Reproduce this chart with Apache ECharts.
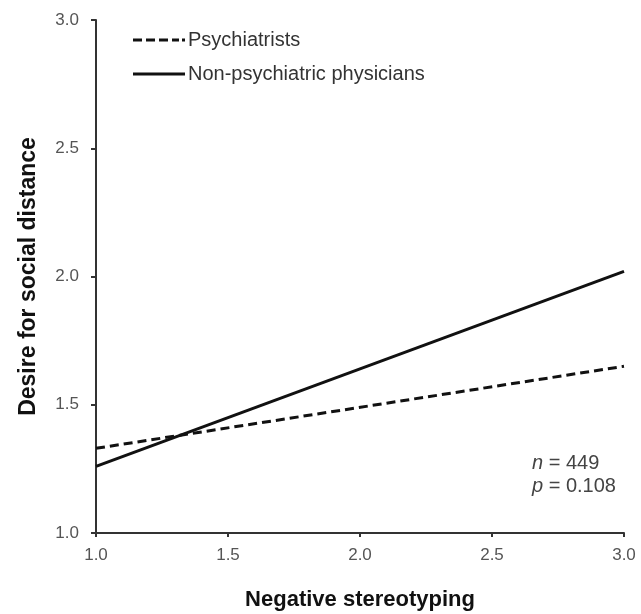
<!DOCTYPE html>
<html><head><meta charset="utf-8">
<script src="https://cdn.jsdelivr.net/npm/echarts@6/dist/echarts.min.js"></script>
<style>html,body{margin:0;padding:0;background:#fff}#c{width:641px;height:614px}</style>
</head><body><div id="c"></div>
<script>
const xValues = [1.0, 3.0];
const psychiatrists = [1.33, 1.65];
const nonPsychiatric = [1.26, 2.02];
const seriesNames = ['Psychiatrists', 'Non-psychiatric physicians'];
const xTitle = 'Negative stereotyping';
const yTitle = 'Desire for social distance';
const annotN = '449';
const annotP = '0.108';

const chart = echarts.init(document.getElementById('c'));
const font = 'Liberation Sans, Arial, sans-serif';
const dashIcon = 'path://M0,0h9v3h-9zM13,0h9v3h-9zM26,0h9v3h-9zM39,0h7v3h-7zM49,0h3v3h-3z';
const solidIcon = 'path://M0,0h52v3h-52z';
chart.setOption({
  animation: false,
  backgroundColor: '#fff',
  grid: {left: 96, right: 17, top: 20, bottom: 81, containLabel: false, outerBoundsMode: 'none'},
  legend: {
    orient: 'vertical', left: 128, top: 24, itemGap: 12,
    itemWidth: 52, itemHeight: 3,
    textStyle: {fontFamily: font, fontSize: 20, color: '#333', padding: [0,0,0,-2], lineHeight: 22},
    data: [{name: seriesNames[0], icon: dashIcon}, {name: seriesNames[1], icon: solidIcon}]
  },
  xAxis: {
    type: 'value', min: 1.0, max: 3.0, interval: 0.5,
    name: xTitle, nameLocation: 'middle', nameGap: 56,
    nameTextStyle: {fontFamily: font, fontSize: 22, fontWeight: 'bold', color: '#111'},
    axisLine: {lineStyle: {color: '#333', width: 2}},
    axisTick: {show: true, length: 4, lineStyle: {color: '#333', width: 2}},
    axisLabel: {fontFamily: font, fontSize: 17, color: '#555', margin: 14, formatter: v => v.toFixed(1)},
    splitLine: {show: false}
  },
  yAxis: {
    type: 'value', min: 1.0, max: 3.0, interval: 0.5,
    name: yTitle, nameLocation: 'middle', nameGap: 56, nameRotate: 90,
    nameTextStyle: {fontFamily: font, fontSize: 23, fontWeight: 'bold', color: '#111'},
    axisLine: {show: true, lineStyle: {color: '#333', width: 2}},
    axisTick: {show: true, length: 5, lineStyle: {color: '#333', width: 2}},
    axisLabel: {fontFamily: font, fontSize: 17, color: '#555', margin: 17, formatter: v => v.toFixed(1)},
    splitLine: {show: false}
  },
  series: [
    {name: seriesNames[0], type: 'line', symbol: 'none',
     data: xValues.map((x, i) => [x, psychiatrists[i]]),
     lineStyle: {color: '#111', width: 3, type: [9, 5]}, itemStyle: {color: '#111'}},
    {name: seriesNames[1], type: 'line', symbol: 'none',
     data: xValues.map((x, i) => [x, nonPsychiatric[i]]),
     lineStyle: {color: '#111', width: 3}, itemStyle: {color: '#111'}}
  ],
  graphic: [
    {type: 'text', left: 532, top: 453, style: {
      rich: {i: {fontStyle: 'italic', fontFamily: font, fontSize: 20, fill: '#444', lineHeight: 23},
             t: {fontFamily: font, fontSize: 20, fill: '#444', lineHeight: 23}},
      text: '{i|n}{t| = ' + annotN + '}\n{i|p}{t| = ' + annotP + '}'
    }}
  ]
});
</script></body></html>
